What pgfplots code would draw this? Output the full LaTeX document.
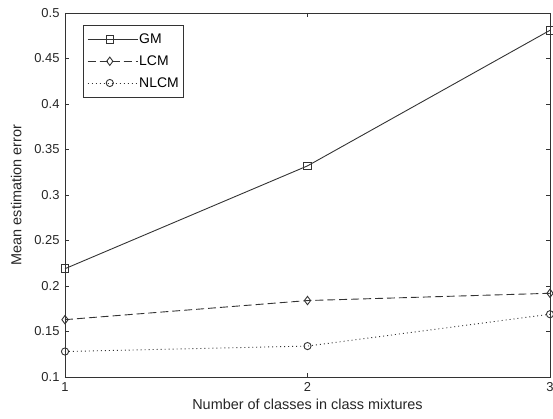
\documentclass[border=0pt]{standalone}
\usepackage{pgfplots}
\pgfplotsset{compat=1.18}
\usepackage{fontspec}
\setmainfont{Liberation Sans}
\begin{document}
\begin{tikzpicture}[x=1bp,y=1bp]
\begin{axis}[
  name=ax,
  scale only axis,
  width=485bp, height=364bp,
  xmin=1, xmax=3, ymin=0.1, ymax=0.5,
  xtick={1,2,3},
  ytick={0.1,0.15,...,0.5},
  yticklabel style={/pgf/number format/fixed,/pgf/number format/precision=2, xshift=-2bp},
  xticklabel style={yshift=-2bp},
  /pgf/number format/assume math mode=true,
  tick align=inside,
  major tick length=4bp,
  xtick pos=both, ytick pos=both,
  tick style={black!80, line width=0.7pt},
  axis line style={black!80, line width=0.8pt},
  ticklabel style={font=\fontsize{13}{15}\selectfont, text=black!85},
  xlabel style={font=\fontsize{14.5}{16}\selectfont, text=black!85},
  ylabel style={font=\fontsize{14.5}{16}\selectfont, text=black!85},
  xlabel={Number of classes in class mixtures},
  ylabel={Mean estimation error},
  xlabel shift=1bp,
  ylabel shift=6bp,
  legend style={at={(0.037,0.967)}, anchor=north west, draw=black!80, line width=0.8pt,
    font=\fontsize{14}{16}\selectfont, row sep=8.5bp, inner xsep=4bp, inner ysep=7.5bp,
    nodes={inner sep=1bp}},
  legend cell align=left,
  legend image code/.code={
    \path (0bp,0bp) -- (50bp,0bp);
    \draw[mark repeat=2,mark phase=2,#1] plot coordinates {(0bp,0bp) (22bp,0bp) (44bp,0bp)};
  },
  every axis plot/.append style={line width=0.9pt, black!80},
]
\addplot[solid, mark=square, mark size=3.8pt, mark options={solid, fill=white}]
  coordinates {(1,0.219) (2,0.332) (3,0.481)};
\addlegendentry{GM}
\addplot[dash pattern=on 8pt off 4pt, mark=diamond, mark size=4.2pt, mark options={solid, fill=white}]
  coordinates {(1,0.163) (2,0.184) (3,0.192)};
\addlegendentry{LCM}
\addplot[dash pattern=on 1pt off 3pt, mark=o, mark size=3.6pt, mark options={solid, fill=white}]
  coordinates {(1,0.128) (2,0.134) (3,0.169)};
\addlegendentry{NLCM}
\end{axis}
% page frame: margins around the plot area
\pgfresetboundingbox
\path ([shift={(-65bp,-42bp)}]ax.south west) rectangle ([shift={(3bp,13bp)}]ax.north east);
\end{tikzpicture}
\end{document}
